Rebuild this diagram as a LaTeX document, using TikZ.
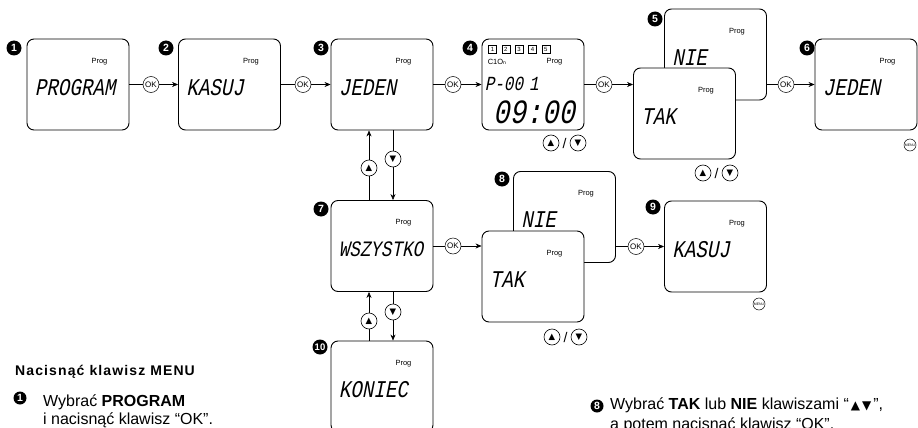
\documentclass[tikz,border=0pt]{standalone}
\usepackage{fontspec}
\setmainfont{Liberation Sans}
\newfontfamily\lcdfont{Liberation Mono}[FakeSlant=0.2,FakeStretch=0.8]
\newfontfamily\symfont{DejaVu Sans}
\newfontfamily\headfont{Liberation Sans}[LetterSpace=8]
\usetikzlibrary{positioning,arrows.meta}
\tikzset{
  screen/.style={draw,rounded corners=7pt,line width=0.9pt,minimum width=102pt,
    minimum height=91pt,inner sep=0,fill=white},
  prog/.style={font=\fontsize{7.5}{8}\selectfont,inner sep=0},
  lcd/.style={font=\lcdfont\fontsize{24}{24}\selectfont,inner sep=0},
  badge/.style={circle,fill=black,text=white,minimum size=15pt,inner sep=0,
    font=\bfseries\fontsize{10.5}{10.5}\selectfont},
  okbtn/.style={circle,draw,line width=0.5pt,minimum size=16pt,inner sep=0,
    font=\fontsize{8}{8}\selectfont,fill=white},
  arrbtn/.style={circle,draw,line width=0.6pt,minimum size=16pt,inner sep=0,
    font=\symfont\fontsize{8.5}{8.5}\selectfont},
  menubtn/.style={circle,draw,line width=0.5pt,minimum size=12pt,inner sep=0,
    font=\fontsize{3.5}{4}\selectfont},
  wire/.style={line width=0.6pt},
  txt/.style={anchor=base west,inner sep=0,font=\fontsize{16}{16}\selectfont},
}
\newcommand{\screen}[4]{% name, x, y, lcd text
  \node[screen] (#1) at (#2,#3) {};
  \node[prog] (#1p) at ([shift={(-30,23)}]#1.north east) {Prog};
  \node[lcd,anchor=west] (#1t) at ([shift={(8,49)}]#1.north west) {#4};}
\newcommand{\updown}[3]{% name, x of up button, y
  \node[arrbtn] (#1u) at (#2,#3) {▲};
  \node[arrbtn] (#1d) at ({#2+27},#3) {▼};
  \node[inner sep=0,font=\fontsize{14}{14}\selectfont] (#1s) at ({#2+13.5},#3) {/};}

\begin{document}
\begin{tikzpicture}[x=1pt,y=-1pt,>={Stealth[length=6pt,width=5pt]}]
  \useasboundingbox (0,0) rectangle (918,428);
  \clip (0,0) rectangle (918,428);
  % top row of screens
  \screen{b1}{78}{84.5}{PROGRAM}
  \screen{b2}{229.5}{84.5}{KASUJ}
  \screen{b3}{382}{84.5}{JEDEN}
  \node[screen] (b4) at (533,84.5) {};
  \node[prog] (b4p) at ([shift={(-30,23)}]b4.north east) {Prog};
  \foreach \i in {1,...,5}
    \node[draw,line width=0.4pt,minimum size=8pt,inner sep=0,font=\fontsize{6}{6}\selectfont]
      (d\i) at ([shift={({11+13.3*(\i-1)},11)}]b4.north west) {\i};
  \node[prog,anchor=west] (b4c) at ([shift={(6,23)}]b4.north west) {C1O{\fontsize{5}{5}\selectfont n}};
  \node[lcd,font=\lcdfont\fontsize{20}{20}\selectfont,anchor=base west,text height=13pt,text depth=0pt]
    (b4t) at ([shift={(3,52)}]b4.north west) {P-00\kern6pt1};
  \node[lcd,font=\lcdfont\fontsize{34}{34}\selectfont,anchor=base,text height=22pt,text depth=0pt]
    (b4clk) at ([shift={(52.5,85)}]b4.north west) {09:00};
  \screen{b5n}{715.5}{54.5}{NIE}
  \screen{b5t}{684.5}{113.5}{TAK}
  \screen{b6}{866}{84.5}{JEDEN}
  % middle row and bottom screen
  \screen{b7}{382}{246}{\fontsize{22}{22}\selectfont WSZYSTKO}
  \screen{b8n}{564.5}{217}{NIE}
  \screen{b8t}{533}{276.5}{TAK}
  \screen{b9}{715.5}{246.5}{KASUJ}
  \screen{b10}{382}{386.5}{KONIEC}
  % step numbers
  \node[badge] (n1) at (14,48) {1};
  \node[badge] (n2) at (166,48) {2};
  \node[badge] (n3) at (321,48) {3};
  \node[badge] (n4) at (470,48) {4};
  \node[badge] (n5) at (655,19) {5};
  \node[badge] (n6) at (807,48) {6};
  \node[badge] (n7) at (321,209) {7};
  \node[badge] (n8) at (502,179) {8};
  \node[badge] (n9) at (653,207) {9};
  \node[badge,font=\bfseries\fontsize{9.5}{9.5}\selectfont] (n10) at (320,347) {10};
  % OK keys and connectors
  \node[okbtn] (ok1) at (151,84.5) {OK};
  \node[okbtn] (ok2) at (303,84.5) {OK};
  \node[okbtn] (ok3) at (453,84.5) {OK};
  \node[okbtn] (ok4) at (604,84.5) {OK};
  \node[okbtn] (ok5) at (786,84.5) {OK};
  \node[okbtn] (ok7) at (453,246) {OK};
  \node[okbtn] (ok8) at (636,246.5) {OK};
  \draw[wire] (b1.east) -- (ok1); \draw[wire,->] (ok1) -- (b2.west);
  \draw[wire] (b2.east) -- (ok2); \draw[wire,->] (ok2) -- (b3.west);
  \draw[wire] (b3.east) -- (ok3); \draw[wire,->] (ok3) -- (b4.west);
  \draw[wire] (b4.east) -- (ok4); \draw[wire,->] (ok4) -- (b5t.west |- ok4);
  \draw[wire] (b5n.east |- ok5) -- (ok5); \draw[wire,->] (ok5) -- (b6.west);
  \draw[wire] (b7.east) -- (ok7); \draw[wire,->] (ok7) -- (b8t.west |- ok7);
  \draw[wire] (b8n.east |- ok8) -- (ok8); \draw[wire,->] (ok8) -- (b9.west);
  % up/down keys between screens
  \node[arrbtn] (u1) at (369,168) {▲};
  \node[arrbtn] (d1) at (393,159) {▼};
  \node[arrbtn] (u2) at (369,321) {▲};
  \node[arrbtn] (d2) at (393,312) {▼};
  \draw[wire] (b7.north -| u1) -- (u1); \draw[wire,->] (u1) -- (b3.south -| u1);
  \draw[wire] (b3.south -| d1) -- (d1); \draw[wire,->] (d1) -- (b7.north -| d1);
  \draw[wire] (b10.north -| u2) -- (u2); \draw[wire,->] (u2) -- (b7.south -| u2);
  \draw[wire] (b7.south -| d2) -- (d2); \draw[wire,->] (d2) -- (b10.north -| d2);
  % up/down and MENU keys under screens
  \updown{k4}{551}{143}
  \updown{k5}{703}{173}
  \updown{k8}{552}{337}
  \node[menubtn] (m6) at (910,145) {MENU};
  \node[menubtn] (m9) at (759,304) {MENU};
  % instructions
  \node[anchor=base west,inner sep=0,font=\headfont\bfseries\fontsize{14}{14}\selectfont] (head) at (15,375) {Nacisnąć klawisz MENU};
  \node[badge,minimum size=13pt] (t1) at (20,398) {1};
  \node[txt] (t1a) at (43,406) {Wybrać \textbf{PROGRAM}};
  \node[txt] (t1b) at (43,424) {i nacisnąć klawisz “OK”.};
  \node[badge,minimum size=13pt] (t8) at (597,406) {8};
  \node[txt] (t8a) at (610,409) {Wybrać \textbf{TAK} lub \textbf{NIE} klawiszami “{\symfont\fontsize{12}{12}\selectfont\,▲\,▼\,}”,};
  \node[txt] (t8b) at (610,429) {a potem nacisnąć klawisz “OK”.};
\end{tikzpicture}
\end{document}
